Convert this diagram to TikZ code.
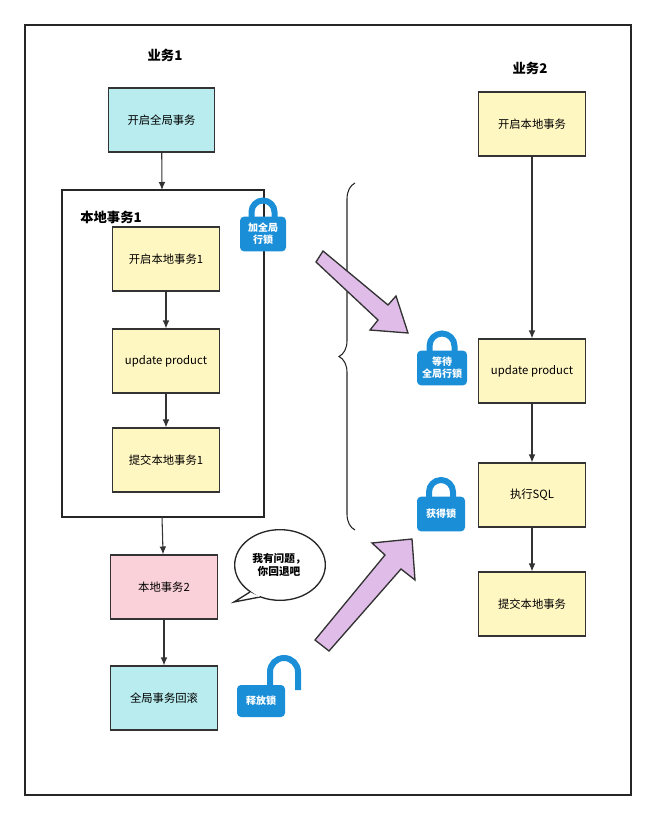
\documentclass[tikz,border=0pt]{standalone}
\usepackage{fontspec}
\setmainfont{Noto Sans CJK SC}
\usetikzlibrary{arrows.meta,decorations.pathreplacing,shapes.geometric}
\definecolor{cyanfill}{HTML}{B8ECEF}
\definecolor{yelfill}{HTML}{FFF7C2}
\definecolor{pinkfill}{HTML}{FAD1D8}
\definecolor{lockblue}{HTML}{1A8FD8}
\definecolor{bigarrow}{HTML}{E0BDE8}
\tikzset{
  box/.style={draw=black!80, line width=0.8pt, minimum width=80pt, minimum height=48pt, font=\fontsize{8.5}{10}\selectfont},
  flow/.style={-{Latex[length=6pt,width=5pt]}, draw=black!80, line width=0.8pt},
  title/.style={font=\bfseries\fontsize{10}{12}\selectfont},
  lockbody/.style={fill=lockblue, rounded corners=3pt, text=white, font=\bfseries\fontsize{7.5}{9}\selectfont, align=center, inner sep=2pt},
}
\newcommand{\lock}[5]{% name, x, y (body centre), width, text
  \draw[lockblue, line width=4.5pt] (#2-0.25*#4,#3-10) -- (#2-0.25*#4,#3-22) arc[start angle=180,end angle=360,radius=0.25*#4] -- (#2+0.25*#4,#3-10);
  \node[lockbody, minimum width=#4*0.75pt, minimum height=26pt] (#1) at (#2,#3) {#5};}
\begin{document}
\begin{tikzpicture}[x=0.75pt,y=-0.75pt]
\useasboundingbox (0,0) rectangle (656,820);
\draw[line width=1pt, black!85] (25,25) rectangle (631,795);

% business 1
\node[title] (t1) at (165,55) {业务1};
\node[box, fill=cyanfill] (g1) at (161.5,120) {开启全局事务};
\draw[line width=1pt, black!85] (62,190) rectangle (264,517);
\node[title] (lt) at (111,217) {本地事务1};
\node[box, fill=yelfill] (a1) at (166,259) {开启本地事务1};
\node[box, fill=yelfill] (a2) at (166,361) {update product};
\node[box, fill=yelfill] (a3) at (166,460) {提交本地事务1};
\node[box, fill=pinkfill] (b1) at (164,587) {本地事务2};
\node[box, fill=cyanfill] (b2) at (164,698) {全局事务回滚};
\coordinate (ctop) at (162,190);
\coordinate (cbot) at (162,517);
\draw[flow] (g1) -- (ctop);
\draw[flow] (a1) -- (a2);
\draw[flow] (a2) -- (a3);
\draw[flow] (cbot) -- (b1);
\draw[flow] (b1) -- (b2);

% business 2
\node[title] (t2) at (530,68) {业务2};
\node[box, fill=yelfill] (c1) at (532,124) {开启本地事务};
\node[box, fill=yelfill] (c2) at (532,371) {update product};
\node[box, fill=yelfill] (c3) at (532,495) {执行SQL};
\node[box, fill=yelfill] (c4) at (532,604) {提交本地事务};
\draw[flow] (c1) -- (c2);
\draw[flow] (c2) -- (c3);
\draw[flow] (c3) -- (c4);

% brace
\draw[decorate, decoration={brace, amplitude=12pt}, line width=0.8pt, black!85] (355,530) -- (355,183);

% big arrows
\draw[fill=bigarrow, draw=black!80, line width=1pt]
  (316,262) -- (323,251) -- (388,305) -- (396,296) -- (408,333) -- (370,330) -- (378,320) -- cycle;
\draw[fill=bigarrow, draw=black!80, line width=1pt]
  (315,640) -- (329,651) -- (401,569) -- (415,580) -- (412,539) -- (372,543) -- (385,555) -- cycle;

% locks
\lock{l1}{263}{234}{46}{加全局\\行锁}
\lock{l2}{442}{368}{50}{等待\\全局行锁}
\lock{l3}{441}{514}{48}{获得锁}
\draw[lockblue, line width=4.5pt] (270,690) -- (270,672) arc[start angle=180,end angle=360,radius=14] -- (298,690);
\node[lockbody, minimum width=36pt, minimum height=24pt] (l4) at (261,701) {释放锁};

% speech bubble
\node[draw=black!85, line width=1pt, fill=white, ellipse, minimum width=68pt, minimum height=53pt] (bub) at (280,565) {};
\draw[line width=1pt, black!85, fill=white] (250,592) -- (234,602) -- (260,597);
\fill[white] (251,591) -- (259,597) -- (262,592) -- cycle;
\node[font=\bfseries\fontsize{8}{10}\selectfont, align=center] (say) at (279,565) {我有问题，\\你回退吧};
\end{tikzpicture}
\end{document}
